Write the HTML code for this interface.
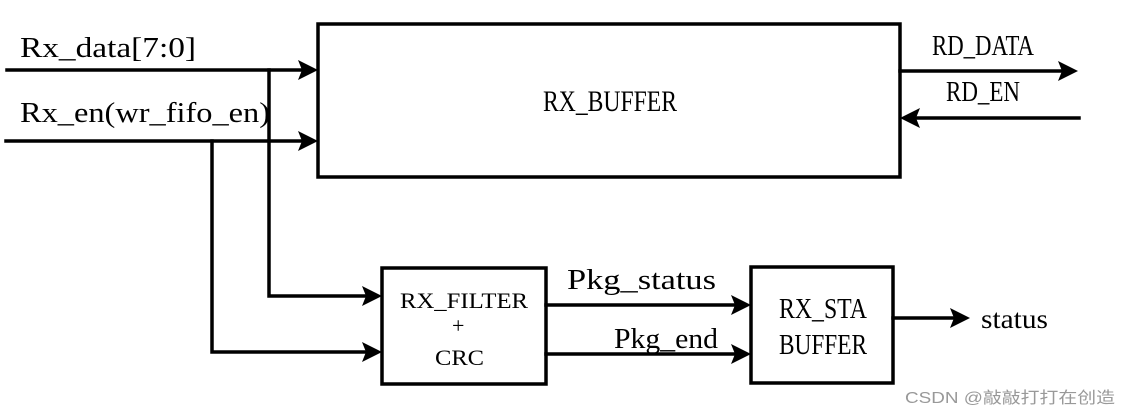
<!DOCTYPE html>
<html><head><meta charset="utf-8"><style>html,body{margin:0;padding:0;background:#fff}svg{display:block}</style></head>
<body>
<svg width="1130" height="415" viewBox="0 0 1130 415" xmlns="http://www.w3.org/2000/svg">
<g stroke="#000" stroke-width="3.5" fill="none" stroke-linecap="square">
<rect x="318" y="24" width="582" height="153"/>
<rect x="382" y="268" width="164" height="116"/>
<rect x="751" y="267" width="142" height="116"/>
<line x1="7" y1="70" x2="302" y2="70"/>
<line x1="6" y1="141" x2="302" y2="141"/>
<polyline points="269,70 269,296 366,296"/>
<polyline points="212,141 212,352 366,352"/>
<line x1="900" y1="71" x2="1062" y2="71"/>
<line x1="1079" y1="118" x2="916" y2="118"/>
<line x1="546" y1="305" x2="735" y2="305"/>
<line x1="546" y1="354" x2="735" y2="354"/>
<line x1="893" y1="318" x2="954" y2="318"/>
</g>
<g fill="#000">
<polygon points="318,70 298,60 302,70 298,80"/>
<polygon points="318,141 298,131 302,141 298,151"/>
<polygon points="382,296 362,286 366,296 362,306"/>
<polygon points="382,352 362,342 366,352 362,362"/>
<polygon points="1078,71 1058,61 1062,71 1058,81"/>
<polygon points="900,118 920,108 916,118 920,128"/>
<polygon points="751,305 731,295 735,305 731,315"/>
<polygon points="751,354 731,344 735,354 731,364"/>
<polygon points="970,318 950,308 954,318 950,328"/>
</g>
<g font-family="'Liberation Serif', serif" font-size="29" fill="#000">
<text x="20" y="57" textLength="176" lengthAdjust="spacingAndGlyphs">Rx_data[7:0]</text>
<text x="20" y="122" textLength="250" lengthAdjust="spacingAndGlyphs">Rx_en(wr_fifo_en)</text>
<text x="567" y="289" textLength="149" lengthAdjust="spacingAndGlyphs">Pkg_status</text>
<text x="614" y="348" textLength="104" lengthAdjust="spacingAndGlyphs">Pkg_end</text>
</g>
<g font-family="'Liberation Serif', serif" fill="#000">
<text x="543" y="111" font-size="30" textLength="134" lengthAdjust="spacingAndGlyphs">RX_BUFFER</text>
<text x="932" y="55" font-size="28" textLength="102" lengthAdjust="spacingAndGlyphs">RD_DATA</text>
<text x="946" y="101" font-size="28" textLength="74" lengthAdjust="spacingAndGlyphs">RD_EN</text>
<text x="400" y="308" font-size="22" textLength="128" lengthAdjust="spacingAndGlyphs">RX_FILTER</text>
<text x="452" y="333" font-size="22">+</text>
<text x="435" y="365" font-size="22" textLength="49" lengthAdjust="spacingAndGlyphs">CRC</text>
<text x="779" y="318" font-size="28" textLength="88" lengthAdjust="spacingAndGlyphs">RX_STA</text>
<text x="779" y="354" font-size="28" textLength="88" lengthAdjust="spacingAndGlyphs">BUFFER</text>
<text x="981" y="328" font-size="27" textLength="67" lengthAdjust="spacingAndGlyphs">status</text>
</g>
<text x="905" y="403" font-family="'Liberation Sans', 'Noto Sans CJK SC', sans-serif" font-size="16" fill="#999" textLength="210" lengthAdjust="spacingAndGlyphs">CSDN @敲敲打打在创造</text>
</svg>
</body></html>
